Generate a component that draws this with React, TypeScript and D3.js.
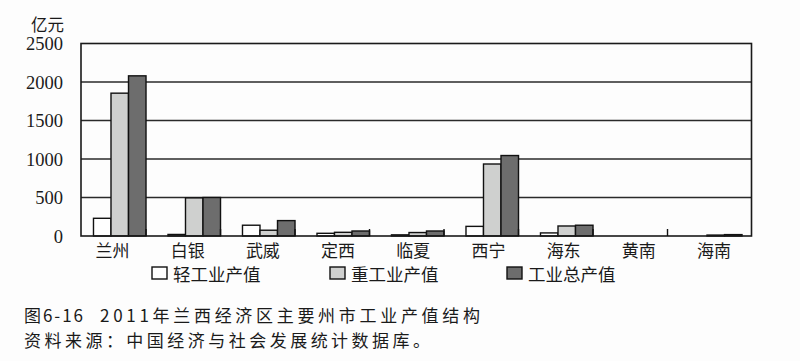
import React from "react";
import * as d3 from "d3";

const categories = ["兰州", "白银", "武威", "定西", "临夏", "西宁", "海东", "黄南", "海南"];
const seriesNames = ["轻工业产值", "重工业产值", "工业总产值"];
const lightIndustry = [230, 20, 140, 35, 15, 125, 40, 0, 0];
const heavyIndustry = [1855, 495, 75, 48, 45, 935, 130, 0, 12];
const totalIndustry = [2080, 500, 200, 65, 65, 1045, 140, 0, 18];
const yTicks = [0, 500, 1000, 1500, 2000, 2500];
const seriesValues = [lightIndustry, heavyIndustry, totalIndustry];
const seriesColors = ["#ffffff", "#cfd0cf", "#6d6d6d"];

const W = 800;
const H = 361;
const plotTop = 43.5;
const plotBottom = 236;
const plotLeft = 81;
const plotRight = 751.5;

export default function App() {
  const y = d3.scaleLinear().domain([0, 2500]).range([plotBottom, plotTop]);
  const x0 = d3
    .scaleBand<string>()
    .domain(categories)
    .range([82.5, 753])
    .paddingInner(0.295)
    .paddingOuter(0.1475);
  const step = x0.step();
  const x1 = d3
    .scaleBand<string>()
    .domain(seriesNames)
    .range([0, x0.bandwidth()]);
  const labelX = d3.scalePoint<string>().domain(categories).range([112.5, 714]);
  const boundaries = categories
    .slice(1)
    .map((c) => (x0(c) as number) - step * 0.1475 - (step * 0.295) / 2);

  const cjk = "'Noto Sans CJK SC', 'Noto Sans', sans-serif";
  const legendX = [152, 330, 507];

  return (
    <svg
      width={W}
      height={H}
      style={{ position: "absolute", left: 0, top: 0, background: "#fdfdfd" }}
    >
      <rect x={0} y={0} width={W} height={H} fill="#fdfdfd" />
      {/* gridlines */}
      {yTicks.slice(1, -1).map((t) => (
        <line
          key={t}
          x1={plotLeft}
          x2={plotRight}
          y1={y(t)}
          y2={y(t)}
          stroke="#2a2a2a"
          strokeWidth={1.4}
        />
      ))}
      {/* bars */}
      {categories.map((c, i) => (
        <g key={c} transform={`translate(${x0(c)},0)`}>
          {seriesNames.map((s, j) => {
            const v = seriesValues[j][i];
            if (v <= 0) return null;
            return (
              <rect
                key={s}
                x={x1(s)}
                y={y(v)}
                width={x1.bandwidth()}
                height={plotBottom - y(v)}
                fill={seriesColors[j]}
                stroke="#111"
                strokeWidth={1.4}
              />
            );
          })}
        </g>
      ))}
      {/* frame */}
      <rect
        x={plotLeft}
        y={plotTop}
        width={plotRight - plotLeft}
        height={plotBottom - plotTop}
        fill="none"
        stroke="#1a1a1a"
        strokeWidth={1.6}
      />
      {/* x ticks */}
      {boundaries.map((b, i) => (
        <line key={i} x1={b} x2={b} y1={plotBottom} y2={plotBottom - 7} stroke="#111" strokeWidth={1.4} />
      ))}
      {/* y tick labels */}
      {yTicks.map((t) => (
        <text
          key={t}
          x={63}
          y={y(t)}
          dy="0.36em"
          textAnchor="end"
          fontFamily="'Liberation Serif', 'DejaVu Serif', serif"
          fontSize={18.5}
          fill="#1a1a1a"
        >
          {t}
        </text>
      ))}
      <text x={31} y={31} fontFamily={cjk} fontSize={16.5} fill="#1a1a1a">
        亿元
      </text>
      {/* category labels */}
      {categories.map((c) => (
        <text
          key={c}
          x={labelX(c)}
          y={257}
          textAnchor="middle"
          fontFamily={cjk}
          fontSize={17}
          fill="#1a1a1a"
        >
          {c}
        </text>
      ))}
      {/* legend */}
      {seriesNames.map((s, j) => (
        <g key={s}>
          <rect
            x={legendX[j]}
            y={267}
            width={15}
            height={12}
            fill={seriesColors[j]}
            stroke="#111"
            strokeWidth={1.4}
          />
          <text x={legendX[j] + 21} y={281} fontFamily={cjk} fontSize={17.5} fill="#1a1a1a">
            {s}
          </text>
        </g>
      ))}
      {/* caption */}
      <text x={24} y={322} fontFamily={cjk} fontSize={17} fill="#1a1a1a" textLength={59} lengthAdjust="spacing">
        图6-16
      </text>
      <text x={100} y={322} fontFamily={cjk} fontSize={17} fill="#1a1a1a" textLength={380} lengthAdjust="spacing">
        2011年兰西经济区主要州市工业产值结构
      </text>
      <text x={24} y={347} fontFamily={cjk} fontSize={17} fill="#1a1a1a" textLength={406} lengthAdjust="spacing">
        资料来源：中国经济与社会发展统计数据库。
      </text>
    </svg>
  );
}
